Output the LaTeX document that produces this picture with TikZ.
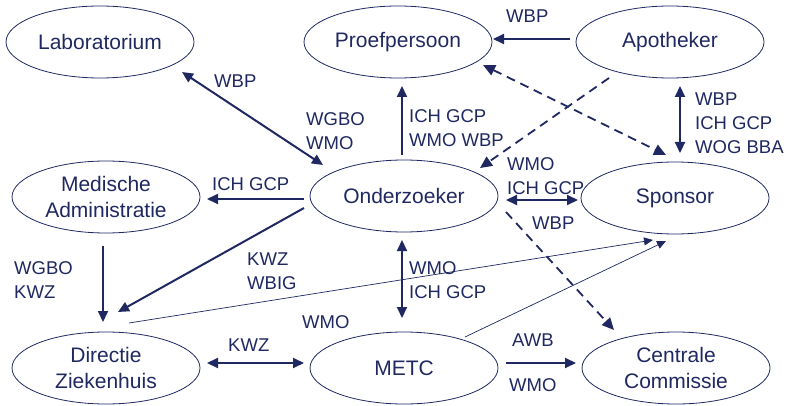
\documentclass[tikz,border=0pt]{standalone}
\usepackage{fontspec}
\setmainfont{Liberation Sans}
\usetikzlibrary{arrows.meta,calc,shapes.geometric}
\definecolor{navy}{HTML}{1F2860}
\begin{document}
\begin{tikzpicture}[x=1pt,y=-1pt,
  ent/.style={draw=navy,line width=0.8pt,ellipse,minimum width=188pt,minimum height=72pt,inner sep=0pt,
    text=navy,align=center,font=\fontsize{21}{26}\selectfont},
  lbl/.style={text=navy,anchor=west,align=left,inner sep=0pt,font=\fontsize{18.5}{24}\selectfont},
  conn/.style={draw=navy,line width=2pt,-{Triangle[length=11pt,width=10pt]}},
  bconn/.style={draw=navy,line width=2pt,{Triangle[length=11pt,width=10pt]}-{Triangle[length=11pt,width=10pt]}},
  dconn/.style={draw=navy,line width=1.8pt,dash pattern=on 9pt off 6pt,-{Triangle[length=12pt,width=11pt]}},
  dbconn/.style={draw=navy,line width=1.8pt,dash pattern=on 9pt off 6pt,{Triangle[length=12pt,width=11pt]}-{Triangle[length=12pt,width=11pt]}},
  tconn/.style={draw=navy,line width=0.7pt,-{Triangle[length=9pt,width=8pt]}}
]
\useasboundingbox (0,0) rectangle (789,406);
\node[ent] (lab) at (100,42) {Laboratorium};
\node[ent] (pro) at (398,42) {Proefpersoon};
\node[ent] (apo) at (670,42) {Apotheker};
\node[ent] (med) at (106,197) {Medische\\Administratie};
\node[ent] (ond) at (404,196) {Onderzoeker};
\node[ent] (spo) at (675,198) {Sponsor};
\node[ent] (dir) at (106,368) {Directie\\Ziekenhuis};
\node[ent] (metc) at (404,368) {METC};
\node[ent] (cen) at (676,368) {Centrale\\Commissie};

% connectors
\draw[bconn] ($(lab)+(82,30)$) -- ($(ond)+(-81,-31)$);
\draw[conn] ($(ond)+(-2,-41)$) -- ($(pro)+(4,44)$);
\draw[conn] ($(apo)+(-100,-3)$) -- ($(pro)+(95,-3)$);
\draw[dconn] ($(apo)+(-61,36)$) -- ($(ond)+(76,-28)$);
\draw[dbconn] ($(pro)+(85,23)$) -- ($(spo)+(-9,-43)$);
\draw[bconn] ($(apo)+(10,44)$) -- ($(spo)+(5,-45)$);
\draw[conn] ($(ond)+(-100,3)$) -- ($(med)+(101,2)$);
\draw[conn] ($(ond)+(-100,12)$) -- ($(dir)+(12,-56)$);
\draw[conn] ($(med)+(-3,49)$) -- ($(dir)+(-3,-46)$);
\draw[bconn] ($(ond)+(102,4)$) -- ($(spo)+(-97,2)$);
\draw[bconn] ($(ond)+(-2,44)$) -- ($(metc)+(-2,-50)$);
\draw[dconn] ($(ond)+(102,16)$) -- ($(cen)+(-62,-38)$);
\draw[tconn] ($(dir)+(23,-45)$) -- ($(spo)+(-22,42)$);
\draw[tconn] ($(metc)+(61,-31)$) -- ($(spo)+(-9,43)$);
\draw[bconn] ($(dir)+(101,-5)$) -- ($(metc)+(-100,-5)$);
\draw[conn] ($(metc)+(102,-5)$) -- ($(cen)+(-100,-5)$);

% labels
\node[lbl] (l1) at (214,81) {WBP};
\node[lbl] (l2) at (306,131) {WGBO\\WMO};
\node[lbl] (l3) at (409,128.5) {ICH GCP\\WMO WBP};
\node[lbl] (l4) at (506,16) {WBP};
\node[lbl] (l5) at (695,123.5) {WBP\\ICH GCP\\WOG BBA};
\node[lbl] (l6) at (507,176) {WMO\\ICH GCP};
\node[lbl] (l7) at (532,223) {WBP};
\node[lbl] (l8) at (212,184) {ICH GCP};
\node[lbl] (l9) at (247,271) {KWZ\\WBIG};
\node[lbl] (l10) at (14,280.5) {WGBO\\KWZ};
\node[lbl] (l11) at (302,322) {WMO};
\node[lbl] (l12) at (228,345) {KWZ};
\node[lbl] (l13) at (409,280.5) {WMO\\ICH GCP};
\node[lbl] (l14) at (512,340) {AWB};
\node[lbl] (l15) at (509,385) {WMO};
\end{tikzpicture}
\end{document}
